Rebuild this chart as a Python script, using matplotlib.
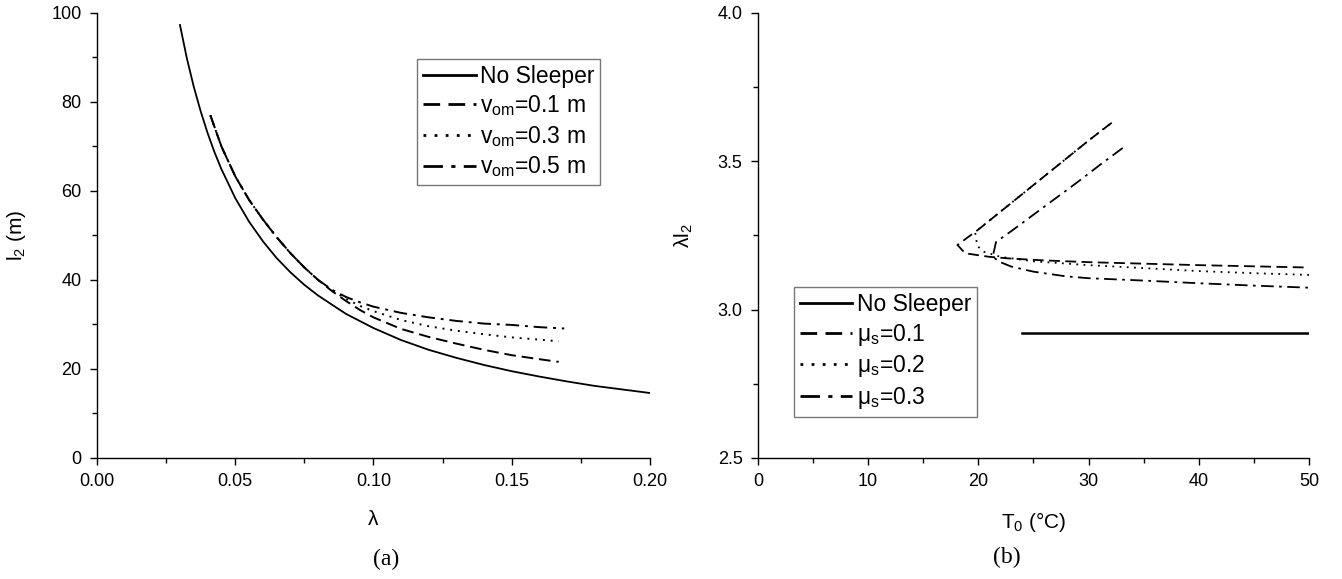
import matplotlib
matplotlib.use("Agg")
import matplotlib.pyplot as plt
from matplotlib.ticker import MultipleLocator, FormatStrFormatter

plt.rcParams['font.family'] = ['Liberation Sans', 'DejaVu Sans']
plt.rcParams['mathtext.fontset'] = 'custom'
plt.rcParams['mathtext.rm'] = 'Liberation Sans'
plt.rcParams['mathtext.it'] = 'Liberation Sans:italic'

# (a) l2 versus lambda
lam_ns = [0.030, 0.0325, 0.035, 0.0375, 0.040, 0.0425, 0.045, 0.050, 0.055, 0.060, 0.065,
          0.070, 0.075, 0.080, 0.090, 0.100, 0.110, 0.120, 0.130, 0.140, 0.150,
          0.160, 0.170, 0.180, 0.190, 0.200]
l2_ns = [97.3, 89.8, 83.4, 77.9, 73.0, 68.7, 64.9, 58.4, 53.1, 48.7, 44.9,
         41.7, 38.9, 36.5, 32.4, 29.2, 26.5, 24.3, 22.5, 20.9, 19.5,
         18.3, 17.2, 16.2, 15.4, 14.6]

lam_v1 = [0.041, 0.045, 0.050, 0.055, 0.060, 0.065, 0.070, 0.075, 0.080, 0.085, 0.090,
          0.095, 0.100, 0.110, 0.120, 0.130, 0.140, 0.150, 0.160, 0.167]
l2_v1 = [77.0, 70.0, 63.3, 58.0, 53.6, 49.6, 46.0, 42.8, 40.0, 37.5, 35.3,
         33.3, 31.6, 29.0, 27.2, 25.7, 24.3, 23.1, 22.2, 21.6]

lam_v3 = [0.041, 0.045, 0.050, 0.055, 0.060, 0.065, 0.070, 0.075, 0.080, 0.085, 0.090,
          0.095, 0.100, 0.110, 0.120, 0.130, 0.140, 0.150, 0.160, 0.167]
l2_v3 = [77.0, 70.0, 63.3, 58.0, 53.6, 49.6, 46.0, 42.8, 40.0, 37.7, 35.8,
         34.2, 33.0, 31.0, 29.6, 28.6, 27.8, 27.1, 26.6, 26.2]

lam_v5 = [0.041, 0.045, 0.050, 0.055, 0.060, 0.065, 0.070, 0.075, 0.080, 0.085, 0.090,
          0.095, 0.100, 0.110, 0.120, 0.130, 0.140, 0.150, 0.160, 0.169]
l2_v5 = [77.0, 70.0, 63.3, 58.0, 53.6, 49.6, 46.0, 42.8, 40.0, 37.8, 36.2,
         35.0, 34.0, 32.6, 31.6, 30.8, 30.2, 29.9, 29.4, 29.1]

# (b) lambda*l2 versus T0
T_ns = [24.0, 50.0]
ll_ns = [2.92, 2.92]

T_m1 = [32.1, 30, 28, 26, 24, 22, 20, 18.1, 18.8, 21, 23, 26, 30, 35, 40, 45, 50]
ll_m1 = [3.63, 3.57, 3.51, 3.45, 3.39, 3.33, 3.27, 3.218, 3.19, 3.178, 3.172, 3.166,
         3.16, 3.155, 3.15, 3.146, 3.142]

T_m2 = [31.9, 30, 28, 26, 24, 22, 19.7, 19.9, 20.5, 22, 25, 30, 35, 40, 45, 50]
ll_m2 = [3.625, 3.57, 3.51, 3.45, 3.39, 3.33, 3.262, 3.215, 3.195, 3.178, 3.163,
         3.150, 3.140, 3.130, 3.123, 3.117]

T_m3 = [33.1, 31, 29, 27, 25, 23, 21.6, 21.3, 22, 23, 25, 28, 30, 35, 40, 45, 50]
ll_m3 = [3.545, 3.487, 3.43, 3.375, 3.32, 3.265, 3.228, 3.178, 3.16, 3.145, 3.128,
         3.112, 3.106, 3.098, 3.089, 3.081, 3.074]

fig = plt.figure(figsize=(13.42, 5.79), dpi=100)
ax1 = fig.add_axes([0.0723, 0.209, 0.412, 0.7686])
ax2 = fig.add_axes([0.5648, 0.209, 0.4106, 0.7686])

dashed = (0, (6, 3))
dotted = (0, (1, 3))
dashdot = (0, (7, 3, 1.5, 3))

ax1.plot(lam_ns, l2_ns, color='black', lw=1.3, label='No Sleeper')
ax1.plot(lam_v1, l2_v1, color='black', lw=1.4, linestyle=dashed, label=r'v$_\mathregular{om}$=0.1 m')
ax1.plot(lam_v3, l2_v3, color='black', lw=1.4, linestyle=dotted, label=r'v$_\mathregular{om}$=0.3 m')
ax1.plot(lam_v5, l2_v5, color='black', lw=1.4, linestyle=dashdot, label=r'v$_\mathregular{om}$=0.5 m')

ax2.plot(T_ns, ll_ns, color='black', lw=1.8, label='No Sleeper')
ax2.plot(T_m1, ll_m1, color='black', lw=1.3, linestyle=dashed, label=r'μ$_\mathregular{s}$=0.1')
ax2.plot(T_m2, ll_m2, color='black', lw=1.3, linestyle=dotted, label=r'μ$_\mathregular{s}$=0.2')
ax2.plot(T_m3, ll_m3, color='black', lw=1.3, linestyle=dashdot, label=r'μ$_\mathregular{s}$=0.3')

ax1.set_xlim(0, 0.2)
ax1.set_ylim(0, 100)
ax1.xaxis.set_major_locator(MultipleLocator(0.05))
ax1.xaxis.set_minor_locator(MultipleLocator(0.025))
ax1.xaxis.set_major_formatter(FormatStrFormatter('%.2f'))
ax1.yaxis.set_major_locator(MultipleLocator(20))
ax1.yaxis.set_minor_locator(MultipleLocator(10))

ax2.set_xlim(0, 50)
ax2.set_ylim(2.5, 4.0)
ax2.xaxis.set_major_locator(MultipleLocator(10))
ax2.xaxis.set_minor_locator(MultipleLocator(5))
ax2.yaxis.set_major_locator(MultipleLocator(0.5))
ax2.yaxis.set_minor_locator(MultipleLocator(0.25))
ax2.yaxis.set_major_formatter(FormatStrFormatter('%.1f'))

for ax in (ax1, ax2):
    ax.spines['top'].set_visible(False)
    ax.spines['right'].set_visible(False)
    ax.spines['left'].set_linewidth(1.0)
    ax.spines['bottom'].set_linewidth(1.0)
    ax.tick_params(which='major', direction='out', length=5, width=1.0, pad=6, labelsize=13)
    ax.tick_params(which='minor', direction='out', length=3.5, width=1.0)

ax1.set_xlabel('λ', fontsize=15)
ax1.set_ylabel(r'l$_\mathregular{2}$ (m)', fontsize=15)
ax1.xaxis.set_label_coords(0.5, -0.117)
ax1.yaxis.set_label_coords(-0.125, 0.5)

ax2.set_xlabel(r'T$_\mathregular{0}$ (°C)', fontsize=15)
ax2.set_ylabel(r'λl$_\mathregular{2}$', fontsize=15)
ax2.xaxis.set_label_coords(0.5, -0.117)
ax2.yaxis.set_label_coords(-0.114, 0.5)

leg_kw = dict(fontsize=16.5, frameon=True, fancybox=False, edgecolor='#555555',
              handlelength=2.3, handletextpad=0.2, labelspacing=0.25,
              borderpad=0.25, borderaxespad=0)
leg1 = ax1.legend(loc='upper left', bbox_to_anchor=(0.579, 0.897), **leg_kw)
leg2 = ax2.legend(loc='upper left', bbox_to_anchor=(0.065, 0.384), **leg_kw)
for leg in (leg1, leg2):
    leg.get_frame().set_linewidth(1.0)
    for ln in leg.get_lines():
        ln.set_linewidth(2.0)

fig.text(0.2876, 0.033, '(a)', fontsize=17, family='Liberation Serif', ha='center', va='center')
fig.text(0.750, 0.038, '(b)', fontsize=17, family='Liberation Serif', ha='center', va='center')

fig.savefig('out.png', dpi=100)
